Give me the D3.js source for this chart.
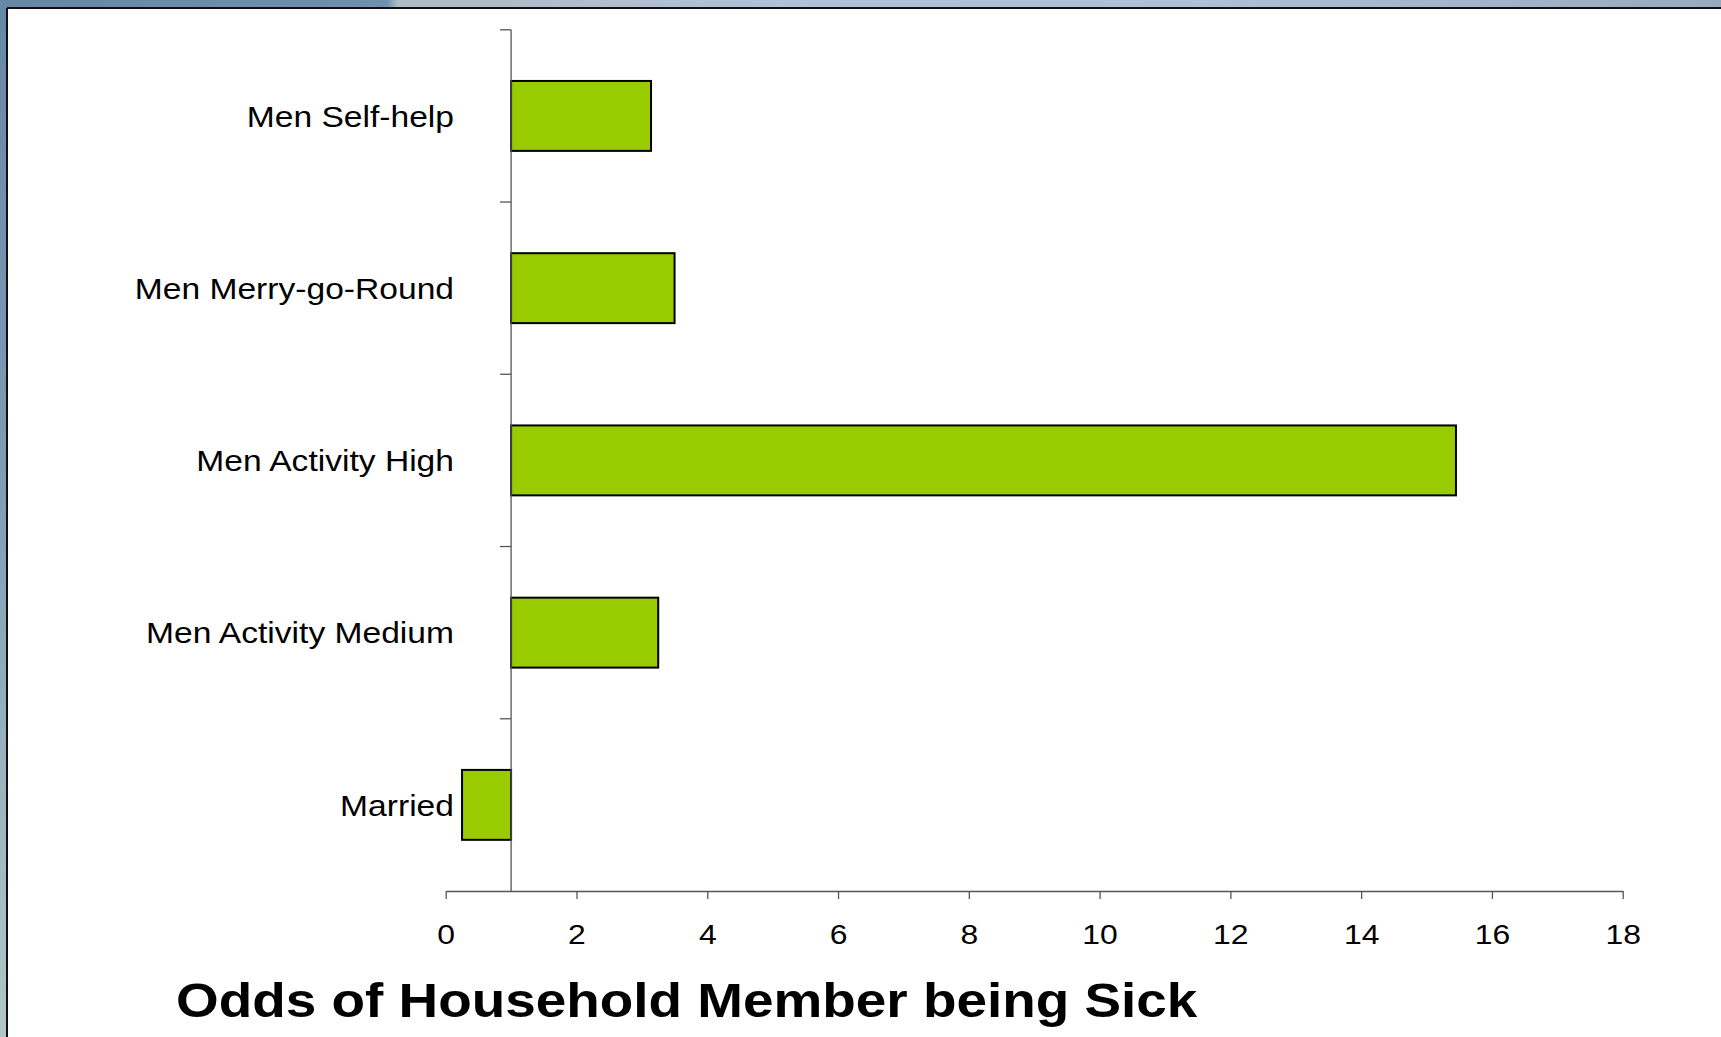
<!DOCTYPE html>
<html>
<head>
<meta charset="utf-8">
<script src="https://cdn.jsdelivr.net/npm/d3@7"></script>
<style>
  html, body { margin: 0; padding: 0; background: #fff; }
  svg { display: block; }
  text { font-family: "Liberation Sans", Arial, Helvetica, sans-serif; fill: #000; }
</style>
</head>
<body>
<svg id="chart" width="1721" height="1037"></svg>
<script>
// Categories, top to bottom
const categories = ["Men Self-help", "Men Merry-go-Round", "Men Activity High", "Men Activity Medium", "Married"];
// Odds ratios (bars drawn from the reference line at 1)
const oddsValues = [3.14, 3.50, 15.45, 3.25, 0.25];
// X-axis tick labels
const xTicks = [0, 2, 4, 6, 8, 10, 12, 14, 16, 18];
const baselineValue = 1;
const title = "Odds of Household Member being Sick";

const W = 1721, H = 1037;
const svg = d3.select("#chart");
const stretch = 1.12; // wide-set lettering

// Window frame: gradient strips on top and left, dark border, white panel
const defs = svg.append("defs");
const topGrad = defs.append("linearGradient").attr("id", "topGrad")
  .attr("x1", 0).attr("x2", 1).attr("y1", 0).attr("y2", 0);
[[0, "#6886a6"], [0.225, "#7190b0"], [0.231, "#aebcc4"], [0.45, "#b2c0d8"], [0.7, "#afbfd8"], [1, "#98abbd"]]
  .forEach(([o, c]) => topGrad.append("stop").attr("offset", o).attr("stop-color", c));
const leftGrad = defs.append("linearGradient").attr("id", "leftGrad")
  .attr("x1", 0).attr("x2", 0).attr("y1", 0).attr("y2", 1);
[[0, "#6886a6"], [0.45, "#7f9cb4"], [1, "#b2c6c6"]]
  .forEach(([o, c]) => leftGrad.append("stop").attr("offset", o).attr("stop-color", c));

svg.append("rect").attr("x", 0).attr("y", 0).attr("width", W).attr("height", H).attr("fill", "#fff");
svg.append("rect").attr("x", 0).attr("y", 0).attr("width", W).attr("height", 8).attr("fill", "url(#topGrad)");
svg.append("rect").attr("x", 0).attr("y", 0).attr("width", 7).attr("height", H).attr("fill", "url(#leftGrad)");
svg.append("line").attr("x1", 7).attr("x2", W).attr("y1", 8).attr("y2", 8)
  .attr("stroke", "#111").attr("stroke-width", 2);
svg.append("line").attr("x1", 7).attr("x2", 7).attr("y1", 8).attr("y2", H)
  .attr("stroke", "#111").attr("stroke-width", 2);

// Scales
const x = d3.scaleLinear().domain([0, 18]).range([445.7, 1622.7]);
const y = d3.scaleBand().domain(categories).range([29.8, 891])
  .paddingInner(0.594).paddingOuter(0.297);

const g = svg.append("g");

// Bars, drawn from the baseline of 1
g.selectAll("rect.bar")
  .data(categories.map((c, i) => ({ cat: c, v: oddsValues[i] })))
  .join("rect")
  .attr("class", "bar")
  .attr("x", d => x(Math.min(d.v, baselineValue)))
  .attr("width", d => Math.abs(x(d.v) - x(baselineValue)))
  .attr("y", d => y(d.cat))
  .attr("height", y.bandwidth())
  .attr("fill", "#99cc00")
  .attr("stroke", "#000")
  .attr("stroke-width", 2);

// X axis
const xAxis = g.append("g")
  .attr("transform", `translate(0,${y.range()[1]})`)
  .call(d3.axisBottom(x).tickValues(xTicks).tickSize(8).tickSizeOuter(0).tickFormat(d3.format("d")));
xAxis.select(".domain").attr("stroke", "#555").attr("stroke-width", 1.3);
xAxis.selectAll(".tick line").attr("stroke", "#555").attr("stroke-width", 1.3);
xAxis.selectAll(".tick text")
  .attr("y", 53).attr("dy", 0)
  .attr("font-size", 28.5)
  .attr("font-family", "Liberation Sans, Arial, sans-serif")
  .attr("fill", "#000")
  .attr("transform", `scale(${stretch},1)`);

// Y axis at the value 1, with ticks between categories
const yAxisX = x(baselineValue);
const step = y.step();
const boundaries = categories.map(c => y(c) - (step - y.bandwidth()) / 2).concat([y.range()[1]]);
g.append("line")
  .attr("x1", yAxisX).attr("x2", yAxisX)
  .attr("y1", boundaries[0]).attr("y2", y.range()[1])
  .attr("stroke", "#555").attr("stroke-width", 1.3);
g.selectAll("line.ytick")
  .data(boundaries.slice(0, -1))
  .join("line")
  .attr("class", "ytick")
  .attr("x1", yAxisX - 11).attr("x2", yAxisX)
  .attr("y1", d => d).attr("y2", d => d)
  .attr("stroke", "#555").attr("stroke-width", 1.3);

// Category labels
g.selectAll("g.cat")
  .data(categories)
  .join("g")
  .attr("class", "cat")
  .attr("transform", d => `translate(454,${y(d) + y.bandwidth() / 2}) scale(${stretch},1)`)
  .append("text")
  .attr("text-anchor", "end")
  .attr("dy", "0.355em")
  .attr("font-size", 30)
  .text(d => d);

// Title below the axis
svg.append("g")
  .attr("transform", `translate(176,1017) scale(${stretch},1)`)
  .append("text")
  .attr("font-size", 49)
  .attr("font-weight", "bold")
  .text(title);
</script>
</body>
</html>
